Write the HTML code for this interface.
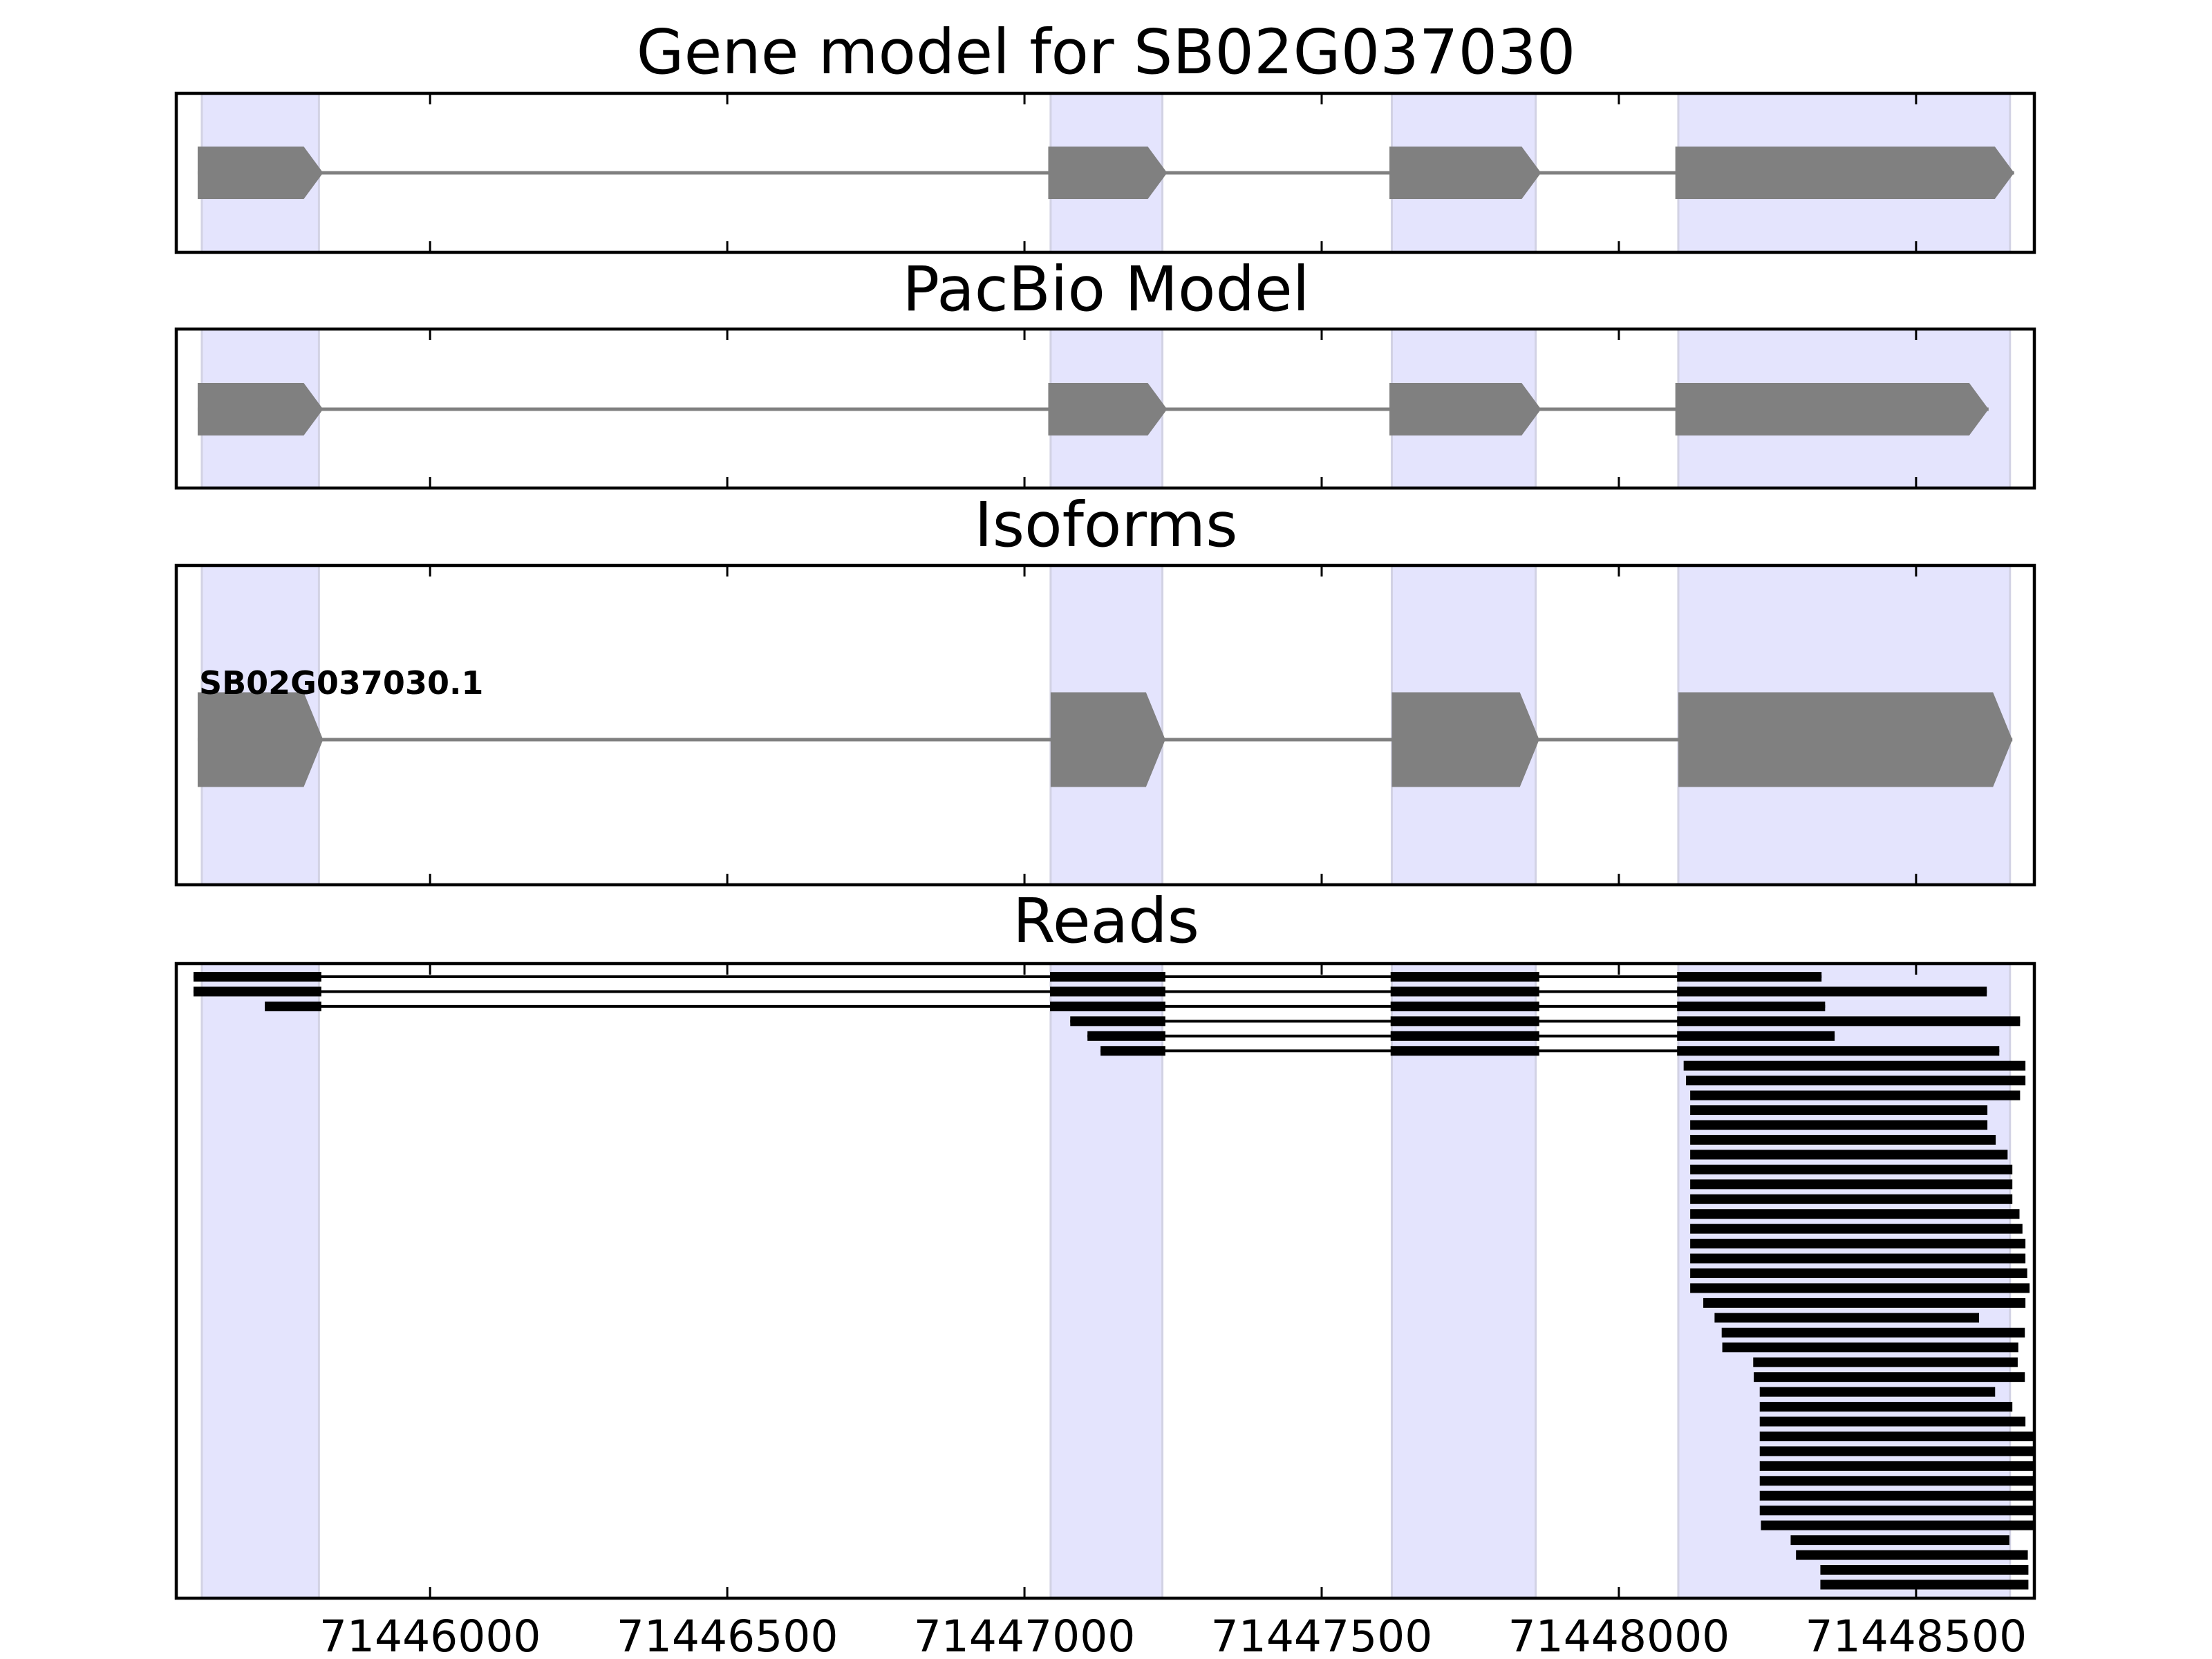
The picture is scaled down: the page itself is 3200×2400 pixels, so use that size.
<!DOCTYPE html>
<html><head><meta charset="utf-8"><style>
html,body{margin:0;padding:0;background:#fff;}
svg{display:block;font-family:"DejaVu Sans","Liberation Sans",sans-serif;}
</style></head><body>
<svg id="fig" width="3200" height="2400" viewBox="0 0 3200 2400" xmlns="http://www.w3.org/2000/svg">
<defs><clipPath id="clipReads"><rect x="255" y="1394" width="2688" height="918"/></clipPath></defs>
</svg>
<script>
const xTicks = [71446000, 71446500, 71447000, 71447500, 71448000, 71448500];
const shadeStarts = [71445616, 71447044, 71447618, 71448100];
const shadeEnds   = [71445813, 71447232, 71447860, 71448658];
const geneStarts = [71445609, 71447040, 71447614, 71448095];
const geneEnds   = [71445820, 71447240, 71447869, 71448665];
const pacStarts  = [71445609, 71447040, 71447614, 71448095];
const pacEnds    = [71445820, 71447240, 71447869, 71448622];
const isoStarts  = [71445609, 71447044, 71447618, 71448100];
const isoEnds    = [71445820, 71447237, 71447866, 71448662];
const isoName = "SB02G037030.1";
// spliced reads: block lists
const splicedReads = [
 [[71445602,71445817],[71447043,71447237],[71447616,71447866],[71448098,71448341]],
 [[71445602,71445817],[71447043,71447237],[71447616,71447866],[71448098,71448619]],
 [[71445722,71445817],[71447043,71447237],[71447616,71447866],[71448098,71448347]],
 [[71447077,71447237],[71447616,71447866],[71448098,71448675]],
 [[71447106,71447237],[71447616,71447866],[71448098,71448363]],
 [[71447128,71447237],[71447616,71447866],[71448098,71448640]]
];
// unspliced reads
const readStarts = [71448109,71448113,71448120,71448120,71448120,71448120,71448120,71448120,71448120,71448120,71448120,71448120,71448120,71448120,71448120,71448120,71448142,71448161,71448173,71448174,71448226,71448227,71448237,71448237,71448237,71448237,71448237,71448237,71448237,71448237,71448237,71448239,71448289,71448298,71448339,71448339];
const readEnds   = [71448684,71448684,71448675,71448620,71448620,71448634,71448654,71448662,71448662,71448662,71448674,71448679,71448684,71448684,71448687,71448691,71448684,71448606,71448683,71448672,71448671,71448683,71448633,71448662,71448684,71448720,71448720,71448720,71448720,71448720,71448720,71448720,71448657,71448688,71448689,71448689];

const NS="http://www.w3.org/2000/svg";
const svg=document.getElementById('fig');
const X0=255, X1=2943, D0=71445573, D1=71448699;
function xs(v){return X0+(v-D0)*(X1-X0)/(D1-D0);}
function mk(tag,attrs,parent){const e=document.createElementNS(NS,tag);for(const k in attrs)e.setAttribute(k,attrs[k]);(parent||svg).appendChild(e);return e;}

const panels=[
 {name:'gene-model-panel',title:'Gene model for SB02G037030',top:135,bot:365,ty:106,cy:250,h:76,s:geneStarts,e:geneEnds},
 {name:'pacbio-model-panel',title:'PacBio Model',top:476,bot:706,ty:449,cy:592,h:76,s:pacStarts,e:pacEnds},
 {name:'isoforms-panel',title:'Isoforms',top:818,bot:1280,ty:790,cy:1070,h:137,s:isoStarts,e:isoEnds},
 {name:'reads-panel',title:'Reads',top:1394,bot:2312,ty:1363}
];
panels.forEach(p=>{
  const g=mk('g',{});
  
  
  for(let i=0;i<shadeStarts.length;i++){
    const r=mk('rect',{x:xs(shadeStarts[i]),y:p.top,width:xs(shadeEnds[i])-xs(shadeStarts[i]),height:p.bot-p.top,fill:'#e4e4fd',stroke:'#d2d2e4','stroke-width':3},g);
    
    
  }
  const t=mk('text',{x:1600,y:p.ty,'text-anchor':'middle','font-size':89,fill:'#000'},svg);
  t.textContent=p.title;
  
  
  if(p.s){
    const l=mk('line',{x1:xs(p.s[0]),x2:xs(p.e[p.e.length-1]),y1:p.cy,y2:p.cy,stroke:'#808080','stroke-width':5},g);
    
    
    for(let i=0;i<p.s.length;i++){
      const a=xs(p.s[i]),b=xs(p.e[i]),tip=28,hh=p.h/2;
      const pg=mk('polygon',{points:`${a},${p.cy-hh} ${b-tip},${p.cy-hh} ${b},${p.cy} ${b-tip},${p.cy+hh} ${a},${p.cy+hh}`,fill:'#808080'},g);
      
      
    }
  }
});
// isoform label
const lab=mk('text',{x:xs(isoStarts[0])+2,y:1004,'font-size':46,'font-weight':'bold',fill:'#000'});
lab.textContent=isoName;



// reads
const rg=mk('g',{'clip-path':'url(#clipReads)'});


const RY0=1413, RDY=21.45, BH=14;
let row=0;
splicedReads.forEach(blocks=>{
  const y=RY0+row*RDY;
  const l=mk('line',{x1:xs(blocks[0][0]),x2:xs(blocks[blocks.length-1][1]),y1:y,y2:y,stroke:'#000','stroke-width':4},rg);
  
  
  blocks.forEach(b=>{
    const r=mk('rect',{x:xs(b[0]),y:y-BH/2,width:xs(b[1])-xs(b[0]),height:BH,fill:'#000'},rg);
    
    
  });
  row++;
});
for(let i=0;i<readStarts.length;i++){
  const y=RY0+row*RDY;
  const r=mk('rect',{x:xs(readStarts[i]),y:y-BH/2,width:xs(readEnds[i])-xs(readStarts[i]),height:BH,fill:'#000'},rg);
  
  
  row++;
}

// frames and ticks
panels.forEach(p=>{
  xTicks.forEach(v=>{
    const x=xs(v);
    const t1=mk('line',{x1:x,x2:x,y1:p.top,y2:p.top+16,stroke:'#000','stroke-width':3});
    
    
    const t2=mk('line',{x1:x,x2:x,y1:p.bot,y2:p.bot-16,stroke:'#000','stroke-width':3});
    
    
  });
  const f=mk('rect',{x:X0,y:p.top,width:X1-X0,height:p.bot-p.top,fill:'none',stroke:'#000','stroke-width':4.5});
  
  
});
xTicks.forEach(v=>{
  const t=mk('text',{x:xs(v),y:2389,'text-anchor':'middle','font-size':63,fill:'#000'});
  t.textContent=String(v);
  
  
});
</script>
</body></html>
